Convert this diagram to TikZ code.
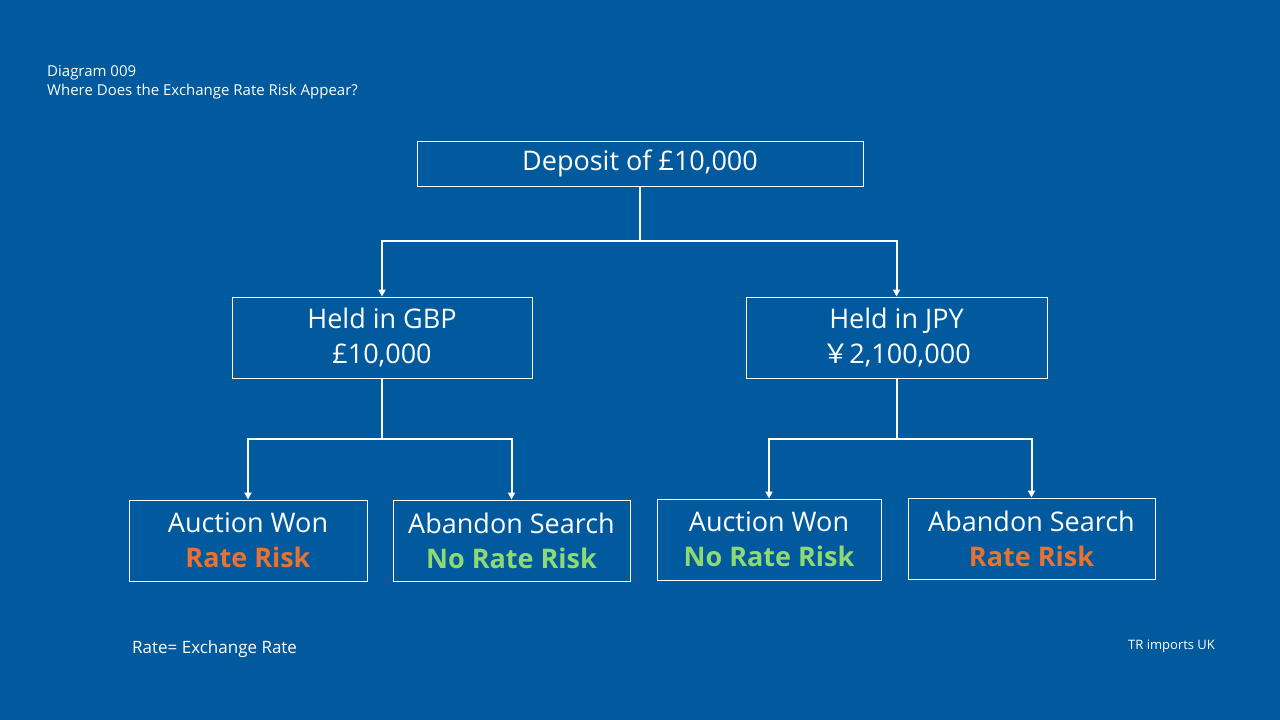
\documentclass[tikz,border=0pt]{standalone}
\usepackage{fontspec}
\setmainfont{Open Sans}
\newfontfamily\cjkjp{Noto Sans CJK JP}
\usetikzlibrary{arrows.meta}
\definecolor{bgblue}{RGB}{2,90,158}
\definecolor{riskorange}{RGB}{233,113,50}
\definecolor{norisk}{RGB}{142,217,115}
\tikzset{
  box/.style={draw=white, line width=1pt, text=white, align=center, inner sep=0pt,
    font=\fontsize{27}{35}\selectfont},
  conn/.style={draw=white, line width=2pt, -{Triangle[width=7pt,length=7pt]}},
  note/.style={text=white, anchor=west, inner sep=0pt, align=left},
}
\begin{document}
\begin{tikzpicture}[x=1pt,y=-1pt]
\fill[bgblue] (0,0) rectangle (1280,720);
\useasboundingbox (0,0) rectangle (1280,720);

\node[note, font=\fontsize{15}{19}\selectfont, anchor=north west] (title) at (47,65) {Diagram 009\\Where Does the Exchange Rate Risk Appear?};

\node[box, minimum width=446pt, minimum height=45pt] (dep) at (640,163.5) {Deposit of £10,000};
\node[box, minimum width=300pt, minimum height=81pt] (gbp) at (382,337.5) {Held in GBP\\£10,000};
\node[box, minimum width=301pt, minimum height=81pt] (jpy) at (896.5,337.5) {Held in JPY\\{\cjkjp ￥}2,100,000};

\node[box, minimum width=238pt, minimum height=81pt] (g1) at (248,540.5) {Auction Won\\\textcolor{riskorange}{\bfseries Rate Risk}};
\node[box, minimum width=237pt, minimum height=81pt] (g2) at (511.5,540.5) {Abandon Search\\\textcolor{norisk}{\bfseries No Rate Risk}};
\node[box, minimum width=224pt, minimum height=81pt] (j1) at (769,539.5) {Auction Won\\\textcolor{norisk}{\bfseries No Rate Risk}};
\node[box, minimum width=247pt, minimum height=81pt] (j2) at (1031.5,538.5) {Abandon Search\\\textcolor{riskorange}{\bfseries Rate Risk}};

\draw[conn] (dep.south) -- ++(0,54) -| (gbp.north);
\draw[conn] (dep.south) -- ++(0,54) -| (jpy.north);
\draw[conn] (gbp.south) -- ++(0,60) -| (g1.north);
\draw[conn] (gbp.south) -- ++(0,60) -| (g2.north);
\draw[conn] (jpy.south) -- ++(0,60) -| (j1.north);
\draw[conn] (jpy.south) -- ++(0,60) -| (j2.north);

\node[note, font=\fontsize{17}{20}\selectfont] (rate) at (132,649) {Rate= Exchange Rate};
\node[note, font=\fontsize{13}{15}\selectfont] (tr) at (1128,646) {TR imports UK};
\end{tikzpicture}
\end{document}
